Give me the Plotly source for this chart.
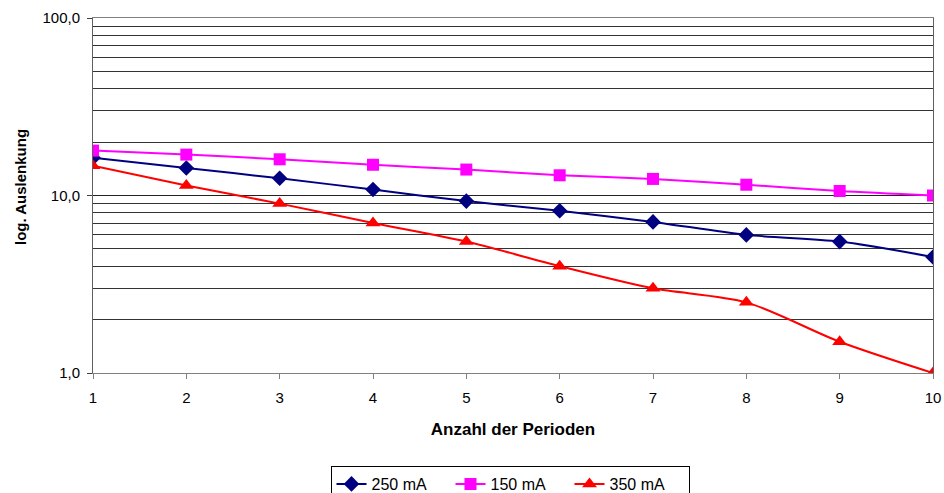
import plotly.graph_objects as go

perioden = [1, 2, 3, 4, 5, 6, 7, 8, 9, 10]
s250 = [16.3, 14.3, 12.5, 10.8, 9.3, 8.2, 7.1, 6.0, 5.5, 4.5]
s150 = [17.9, 17.0, 16.0, 14.9, 14.0, 13.0, 12.4, 11.5, 10.6, 10.0]
s350 = [14.7, 11.4, 9.0, 7.0, 5.5, 4.0, 3.0, 2.5, 1.5, 1.0]

y_major = [1, 10, 100]
y_major_text = ["1,0", "10,0", "100,0"]
y_minor = [2, 3, 4, 5, 6, 7, 8, 9, 20, 30, 40, 50, 60, 70, 80, 90]

font = "Liberation Sans, Arial, sans-serif"

fig = go.Figure()
fig.add_trace(go.Scatter(x=perioden, y=s250, name="250 mA", mode="lines+markers",
                         line=dict(color="#000080", width=2, shape="spline", smoothing=0.8),
                         marker=dict(symbol="diamond", size=12, color="#000080")))
fig.add_trace(go.Scatter(x=perioden, y=s150, name="150 mA", mode="lines+markers",
                         line=dict(color="#FF00FF", width=2, shape="spline", smoothing=0.8),
                         marker=dict(symbol="square", size=12, color="#FF00FF")))
fig.add_trace(go.Scatter(x=perioden, y=s350, name="350 mA", mode="lines+markers",
                         line=dict(color="#FF0000", width=2, shape="spline", smoothing=0.8),
                         marker=dict(symbol="triangle-up", size=13, color="#FF0000")))

W, H = 944, 493
L, R, T, B = 93, 11, 18, 120
pw, ph = W - L - R, H - T - B

fig.update_layout(
    width=W, height=H,
    margin=dict(l=L, r=R, t=T, b=B, autoexpand=False),
    paper_bgcolor="white", plot_bgcolor="white",
    font=dict(family=font, size=15, color="black"),
    showlegend=True,
    legend=dict(orientation="h", x=(510 - L) / pw, xanchor="center", xref="paper",
                y=(H - 466) / H, yanchor="top", yref="container",
                bordercolor="black", borderwidth=1, font=dict(size=16),
                entrywidth=74, tracegroupgap=0),
    xaxis=dict(range=[1, 10], tickvals=perioden, ticks="outside", ticklen=5,
               tickcolor="#808080", showline=True, linecolor="#808080", linewidth=1,
               mirror=True, showgrid=False, zeroline=False, automargin=False,
               tickfont=dict(size=15), ticklabelstandoff=6,
               title=dict(text="<b>Anzahl der Perioden</b>", font=dict(size=17), standoff=18)),
    yaxis=dict(type="log", range=[0, 2], tickvals=y_major, ticktext=y_major_text,
               ticks="outside", ticklen=5, tickcolor="#404040",
               showline=True, linecolor="#606060", linewidth=1, mirror=True,
               showgrid=True, gridcolor="#222222", gridwidth=1, zeroline=False,
               automargin=False, tickfont=dict(size=15), ticklabelstandoff=4,
               minor=dict(tickvals=y_minor, showgrid=True, gridcolor="#333333",
                          gridwidth=1, ticks="")),
    annotations=[dict(text="<b>log. Auslenkung</b>", textangle=-90, showarrow=False,
                      xref="paper", yref="paper", x=(20 - L) / pw, y=(H - B - 187) / ph,
                      xanchor="center", yanchor="middle", font=dict(size=15))],
)

fig.write_html("out.html", config={"displayModeBar": False},
               post_script="document.body.style.margin='0';document.body.style.overflow='hidden';")
